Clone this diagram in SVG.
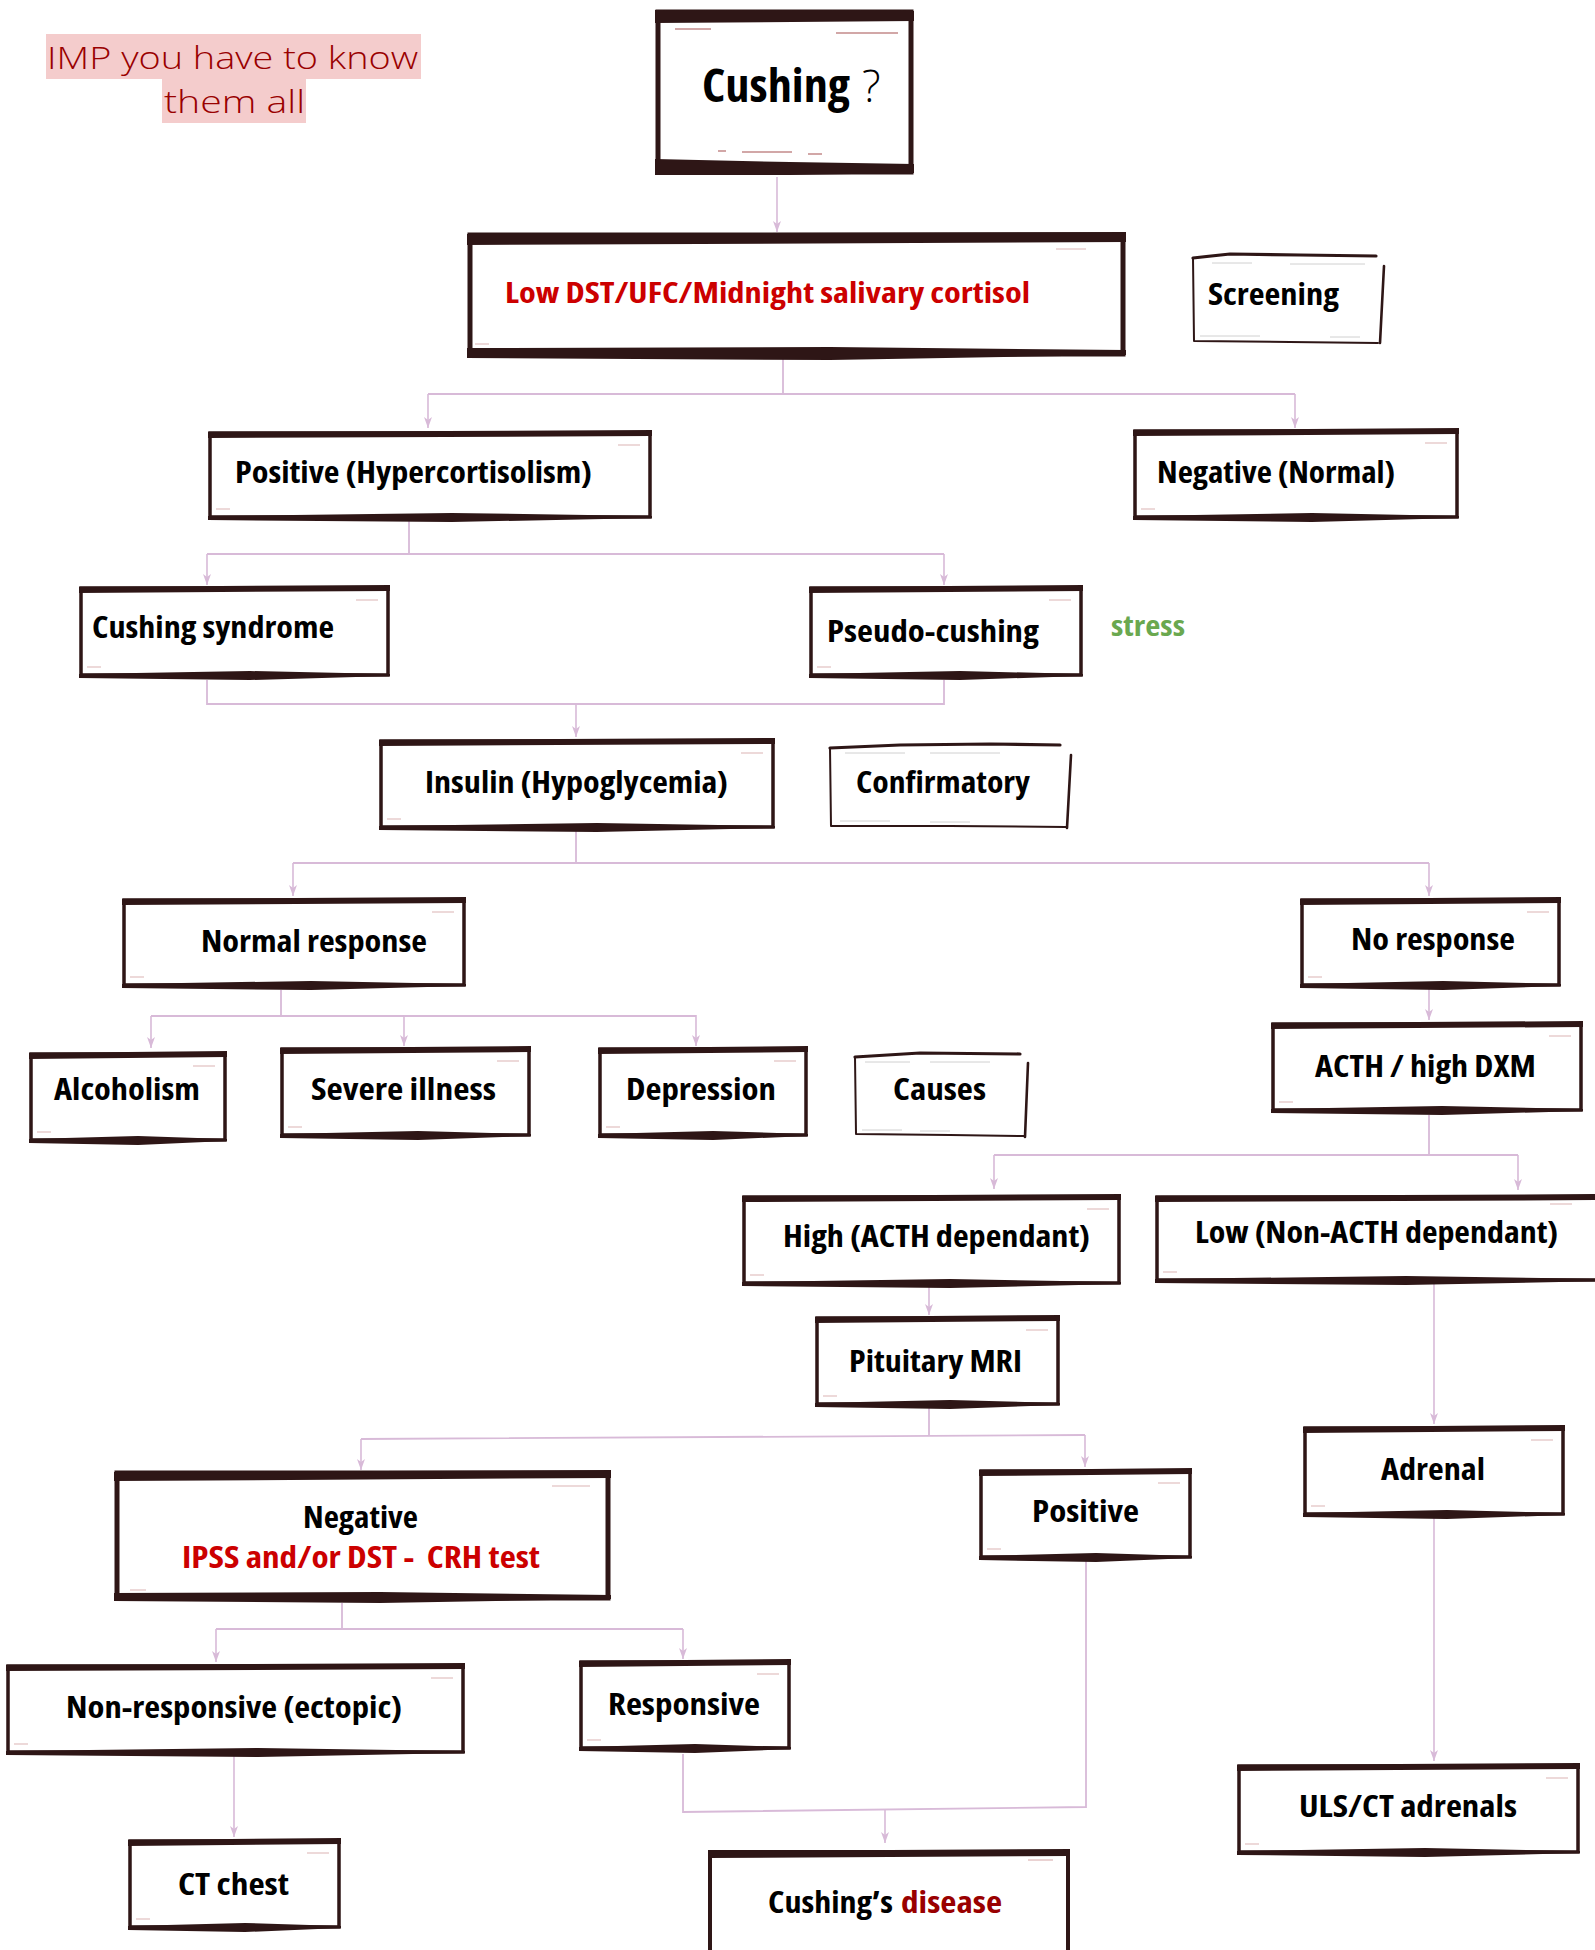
<svg xmlns="http://www.w3.org/2000/svg" width="1595" height="1950" viewBox="0 0 1595 1950">
<style>
.bx{fill:#fff;stroke:#2e1616;stroke-width:3.5}
.hv{fill:#2e1616}
.tk{fill:none;stroke:#dcb4b4;stroke-width:1.2}
.sk{fill:none;stroke:#2e1616;stroke-linecap:round;stroke-linejoin:round}
.fl{fill:none;stroke:#d0d0d0;stroke-width:1}
.t{font-family:"Open Sans","Liberation Sans",sans-serif;font-weight:700;font-stretch:condensed;font-size:30px;fill:#000}
.red{fill:#cc0000}
.cn{fill:none;stroke:#d8bad8;stroke-width:1.8}
.ar{fill:none;stroke:#d8bad8;stroke-width:1.6;marker-end:url(#ah)}
</style>
<defs>
<marker id="ah" viewBox="0 0 12 10" refX="11" refY="5" markerWidth="12" markerHeight="10" markerUnits="userSpaceOnUse" orient="auto">
<path d="M0,1 L11,5 L0,9 L3,5 Z" fill="#d8bad8"/>
</marker>
</defs>
<rect width="1595" height="1950" fill="#fff"/>

<g id="note">
<rect x="46" y="34" width="375" height="45" fill="#f4cccc"/>
<rect x="162" y="79" width="144" height="44" fill="#f4cccc"/>
<text font-family="'Open Sans',sans-serif" font-weight="300" font-size="31.5" fill="#990000"><tspan x="47" y="69" textLength="371" lengthAdjust="spacingAndGlyphs">IMP you have to know</tspan><tspan x="164" y="113" textLength="141" lengthAdjust="spacingAndGlyphs">them all</tspan></text>
</g>

<g id="connectors">
<path class="ar" d="M777,177 V232"/>
<path class="cn" d="M783,358 V394 M428,394 H1295"/>
<path class="ar" d="M428,394 V428"/>
<path class="ar" d="M1295,394 V428"/>
<path class="cn" d="M409,521 V554 M207,554 H944"/>
<path class="ar" d="M207,554 V585"/>
<path class="ar" d="M944,554 V585"/>
<path class="cn" d="M207,680 V704 H944 V680"/>
<path class="ar" d="M576,704 V737"/>
<path class="cn" d="M576,830 V863 M293,863 H1429"/>
<path class="ar" d="M293,863 V896"/>
<path class="ar" d="M1429,863 V896"/>
<path class="cn" d="M281,990 V1015 M151,1016 H696"/>
<path class="ar" d="M151,1016 V1048"/>
<path class="ar" d="M404,1015 V1046"/>
<path class="ar" d="M696,1015 V1046"/>
<path class="ar" d="M1429,988 V1020"/>
<path class="cn" d="M1429,1115 V1155 M994,1155 H1518"/>
<path class="ar" d="M994,1155 V1189"/>
<path class="ar" d="M1518,1155 V1190"/>
<path class="ar" d="M929,1287 V1315"/>
<path class="ar" d="M1434,1284 V1424"/>
<path class="cn" d="M929,1407 V1435 M361,1439 L1085,1435"/>
<path class="ar" d="M361,1439 V1470"/>
<path class="ar" d="M1085,1435 V1467"/>
<path class="cn" d="M342,1603 V1628 M216,1629 H683"/>
<path class="ar" d="M216,1629 V1662"/>
<path class="ar" d="M683,1629 V1659"/>
<path class="ar" d="M234,1756 V1837"/>
<path class="cn" d="M683,1754 V1812 L1086,1807 V1560"/>
<path class="ar" d="M885,1810 V1843"/>
<path class="ar" d="M1434,1518 V1761"/>
</g>

<g id="n-cushing">
<rect class="bx" x="658" y="12" width="253" height="160" style="stroke-width:5"/>
<path class="hv" d="M655,10 L914,11 L914,21 L655,23 Z"/>
<path class="hv" d="M655,159 L790,162 L914,164 L914,173 L790,175 L655,175 Z"/>
<path class="tk" d="M675,29 h36 M836,33 h62 M718,151 h8 M742,152 h50 M808,154 h14" style="stroke:#c48a8a;stroke-width:1.3"/>
<text class="t" x="702" y="102" style="font-size:46px" textLength="148" lengthAdjust="spacingAndGlyphs">Cushing</text>
<text x="862" y="102" font-family="'Open Sans',sans-serif" font-weight="300" font-size="44" fill="#000">?</text>
</g>

<g id="n-lowdst">
<rect class="bx" x="470" y="235" width="653" height="119" style="stroke-width:5"/>
<path class="hv" d="M467,234 L1126,232 L1126,242 L467,245 Z"/>
<path class="hv" d="M467,348 L830,347 L1126,350 L1126,355 L830,360 L467,358 Z"/>
<path class="tk" d="M1056,249 h30 M475,344 h14"/>
<text class="t red" x="505" y="303" style="font-size:29px" textLength="525" lengthAdjust="spacingAndGlyphs">Low DST/UFC/Midnight salivary cortisol</text>
</g>

<g id="n-screening">
<rect x="1193" y="256" width="188" height="86" fill="#fff"/>
<path class="fl" d="M1212,263 h40 M1290,264 h75 M1200,336 h60 M1330,337 h30"/>
<path class="sk" stroke-width="3.2" d="M1193,258 L1230,254 L1300,255 L1376,256"/>
<path class="sk" stroke-width="2" d="M1193,258 L1194,341 L1290,342 L1378,343"/>
<path class="sk" stroke-width="2.6" d="M1384,266 L1380,343"/>
<text class="t" x="1208" y="305" textLength="131" lengthAdjust="spacingAndGlyphs">Screening</text>
</g>

<g id="n-positive">
<rect class="bx" x="210" y="433" width="440" height="84"/>
<path class="hv" d="M208,432 L652,430 L652,436 L208,438 Z"/>
<path class="hv" d="M208,516 L452,513 L652,516 L652,518 L452,522 L208,520 Z"/>
<path class="tk" d="M618,445 h22 M216,509 h14"/>
<text class="t" x="235" y="483" textLength="357" lengthAdjust="spacingAndGlyphs">Positive (Hypercortisolism)</text>
</g>

<g id="n-negative">
<rect class="bx" x="1135" y="431" width="322" height="86"/>
<path class="hv" d="M1133,430 L1459,428 L1459,434 L1133,436 Z"/>
<path class="hv" d="M1133,516 L1312,513 L1459,516 L1459,518 L1312,522 L1133,520 Z"/>
<path class="tk" d="M1425,443 h22 M1141,509 h14"/>
<text class="t" x="1157" y="483" textLength="238" lengthAdjust="spacingAndGlyphs">Negative (Normal)</text>
</g>

<g id="n-cushing-syndrome">
<rect class="bx" x="81" y="588" width="307" height="87"/>
<path class="hv" d="M79,587 L390,585 L390,591 L79,593 Z"/>
<path class="hv" d="M79,674 L250,671 L390,674 L390,676 L250,680 L79,678 Z"/>
<path class="tk" d="M356,600 h22 M87,667 h14"/>
<text class="t" x="92" y="638" textLength="242" lengthAdjust="spacingAndGlyphs">Cushing syndrome</text>
</g>

<g id="n-pseudo">
<rect class="bx" x="811" y="588" width="270" height="87"/>
<path class="hv" d="M809,587 L1083,585 L1083,591 L809,593 Z"/>
<path class="hv" d="M809,674 L960,671 L1083,674 L1083,676 L960,680 L809,678 Z"/>
<path class="tk" d="M1049,600 h22 M817,667 h14"/>
<text class="t" x="827" y="642" textLength="212" lengthAdjust="spacingAndGlyphs">Pseudo-cushing</text>
</g>

<g id="n-stress">
<text class="t" x="1111" y="636" style="font-size:28px;fill:#6aa84f" textLength="74" lengthAdjust="spacingAndGlyphs">stress</text>
</g>

<g id="n-insulin">
<rect class="bx" x="381" y="741" width="392" height="86"/>
<path class="hv" d="M379,740 L775,738 L775,744 L379,746 Z"/>
<path class="hv" d="M379,826 L597,823 L775,826 L775,828 L597,832 L379,830 Z"/>
<path class="tk" d="M741,753 h22 M387,819 h14"/>
<text class="t" x="425" y="793" textLength="303" lengthAdjust="spacingAndGlyphs">Insulin (Hypoglycemia)</text>
</g>

<g id="n-confirmatory">
<rect x="830" y="746" width="238" height="81" fill="#fff"/>
<path class="fl" d="M845,753 h60 M930,753 h70 M840,821 h50 M930,822 h40"/>
<path class="sk" stroke-width="3.2" d="M830,748 L900,745 L990,744 L1060,745"/>
<path class="sk" stroke-width="2" d="M830,748 L831,826 L950,826 L1066,827"/>
<path class="sk" stroke-width="2.6" d="M1071,755 L1067,828"/>
<text class="t" x="856" y="793" textLength="174" lengthAdjust="spacingAndGlyphs">Confirmatory</text>
</g>

<g id="n-normal-response">
<rect class="bx" x="124" y="900" width="340" height="85"/>
<path class="hv" d="M122,899 L466,897 L466,903 L122,905 Z"/>
<path class="hv" d="M122,984 L311,981 L466,984 L466,986 L311,990 L122,988 Z"/>
<path class="tk" d="M432,912 h22 M130,977 h14"/>
<text class="t" x="201" y="952" textLength="226" lengthAdjust="spacingAndGlyphs">Normal response</text>
</g>

<g id="n-no-response">
<rect class="bx" x="1302" y="900" width="257" height="85"/>
<path class="hv" d="M1300,899 L1561,897 L1561,903 L1300,905 Z"/>
<path class="hv" d="M1300,984 L1443,981 L1561,984 L1561,986 L1443,990 L1300,988 Z"/>
<path class="tk" d="M1527,912 h22 M1308,977 h14"/>
<text class="t" x="1351" y="950" textLength="164" lengthAdjust="spacingAndGlyphs">No response</text>
</g>

<g id="n-alcoholism">
<rect class="bx" x="31" y="1054" width="194" height="86"/>
<path class="hv" d="M29,1053 L227,1051 L227,1057 L29,1059 Z"/>
<path class="hv" d="M29,1139 L138,1136 L227,1139 L227,1141 L138,1145 L29,1143 Z"/>
<path class="tk" d="M193,1066 h22 M37,1132 h14"/>
<text class="t" x="54" y="1100" textLength="146" lengthAdjust="spacingAndGlyphs">Alcoholism</text>
</g>

<g id="n-severe-illness">
<rect class="bx" x="282" y="1049" width="247" height="86"/>
<path class="hv" d="M280,1048 L531,1046 L531,1052 L280,1054 Z"/>
<path class="hv" d="M280,1134 L418,1131 L531,1134 L531,1136 L418,1140 L280,1138 Z"/>
<path class="tk" d="M497,1061 h22 M288,1127 h14"/>
<text class="t" x="311" y="1100" textLength="185" lengthAdjust="spacingAndGlyphs">Severe illness</text>
</g>

<g id="n-depression">
<rect class="bx" x="600" y="1049" width="206" height="86"/>
<path class="hv" d="M598,1048 L808,1046 L808,1052 L598,1054 Z"/>
<path class="hv" d="M598,1134 L713,1131 L808,1134 L808,1136 L713,1140 L598,1138 Z"/>
<path class="tk" d="M774,1061 h22 M606,1127 h14"/>
<text class="t" x="626" y="1100" textLength="150" lengthAdjust="spacingAndGlyphs">Depression</text>
</g>

<g id="n-causes">
<rect x="855" y="1055" width="171" height="80" fill="#fff"/>
<path class="fl" d="M865,1062 h45 M930,1062 h60 M862,1130 h40 M920,1131 h30"/>
<path class="sk" stroke-width="3.2" d="M855,1057 L920,1053 L1020,1054"/>
<path class="sk" stroke-width="2" d="M855,1057 L856,1134 L950,1135 L1024,1136"/>
<path class="sk" stroke-width="2.6" d="M1028,1063 L1025,1137"/>
<text class="t" x="893" y="1100" textLength="93" lengthAdjust="spacingAndGlyphs">Causes</text>
</g>

<g id="n-acth">
<rect class="bx" x="1273" y="1024" width="308" height="86"/>
<path class="hv" d="M1271,1023 L1583,1021 L1583,1027 L1271,1029 Z"/>
<path class="hv" d="M1271,1109 L1442,1106 L1583,1109 L1583,1111 L1442,1115 L1271,1113 Z"/>
<path class="tk" d="M1549,1036 h22 M1279,1102 h14"/>
<text class="t" x="1315" y="1077" textLength="221" lengthAdjust="spacingAndGlyphs">ACTH / high DXM</text>
</g>

<g id="n-high">
<rect class="bx" x="744" y="1197" width="375" height="86"/>
<path class="hv" d="M742,1196 L1121,1194 L1121,1200 L742,1202 Z"/>
<path class="hv" d="M742,1282 L950,1279 L1121,1282 L1121,1284 L950,1288 L742,1286 Z"/>
<path class="tk" d="M1087,1209 h22 M750,1275 h14"/>
<text class="t" x="783" y="1247" textLength="307" lengthAdjust="spacingAndGlyphs">High (ACTH dependant)</text>
</g>

<g id="n-low">
<rect class="bx" x="1157" y="1197" width="453" height="83"/>
<path class="hv" d="M1155,1196 L1612,1194 L1612,1200 L1155,1202 Z"/>
<path class="hv" d="M1155,1279 L1406,1276 L1612,1279 L1612,1281 L1406,1285 L1155,1283 Z"/>
<path class="tk" d="M1550,1204 h22 M1163,1272 h14"/>
<text class="t" x="1195" y="1243" textLength="363" lengthAdjust="spacingAndGlyphs">Low (Non-ACTH dependant)</text>
</g>

<g id="n-pituitary">
<rect class="bx" x="817" y="1318" width="241" height="86"/>
<path class="hv" d="M815,1317 L1060,1315 L1060,1321 L815,1323 Z"/>
<path class="hv" d="M815,1403 L950,1400 L1060,1403 L1060,1405 L950,1409 L815,1407 Z"/>
<path class="tk" d="M1026,1330 h22 M823,1396 h14"/>
<text class="t" x="849" y="1372" textLength="173" lengthAdjust="spacingAndGlyphs">Pituitary MRI</text>
</g>

<g id="n-adrenal">
<rect class="bx" x="1305" y="1428" width="258" height="86"/>
<path class="hv" d="M1303,1427 L1565,1425 L1565,1431 L1303,1433 Z"/>
<path class="hv" d="M1303,1513 L1447,1510 L1565,1513 L1565,1515 L1447,1519 L1303,1517 Z"/>
<path class="tk" d="M1531,1440 h22 M1311,1506 h14"/>
<text class="t" x="1381" y="1480" textLength="104" lengthAdjust="spacingAndGlyphs">Adrenal</text>
</g>

<g id="n-negative-ipss">
<rect class="bx" x="117" y="1473" width="491" height="125" style="stroke-width:5"/>
<path class="hv" d="M114,1472 L611,1470 L611,1478 L114,1481 Z"/>
<path class="hv" d="M114,1593 L380,1592 L611,1595 L611,1599 L380,1603 L114,1601 Z"/>
<path class="tk" d="M552,1486 h38 M130,1590 h16"/>
<text class="t" x="303" y="1528" textLength="115" lengthAdjust="spacingAndGlyphs">Negative</text>
<text class="t red" x="182" y="1568" xml:space="preserve" textLength="358" lengthAdjust="spacingAndGlyphs">IPSS and/or DST -  CRH test</text>
</g>

<g id="n-positive-mri">
<rect class="bx" x="981" y="1471" width="209" height="86"/>
<path class="hv" d="M979,1470 L1192,1468 L1192,1474 L979,1476 Z"/>
<path class="hv" d="M979,1556 L1096,1553 L1192,1556 L1192,1558 L1096,1562 L979,1560 Z"/>
<path class="tk" d="M1158,1483 h22 M987,1549 h14"/>
<text class="t" x="1032" y="1522" textLength="107" lengthAdjust="spacingAndGlyphs">Positive</text>
</g>

<g id="n-non-responsive">
<rect class="bx" x="8" y="1666" width="455" height="86"/>
<path class="hv" d="M6,1665 L465,1663 L465,1669 L6,1671 Z"/>
<path class="hv" d="M6,1751 L258,1748 L465,1751 L465,1753 L258,1757 L6,1755 Z"/>
<path class="tk" d="M431,1678 h22 M14,1744 h14"/>
<text class="t" x="66" y="1718" textLength="336" lengthAdjust="spacingAndGlyphs">Non-responsive (ectopic)</text>
</g>

<g id="n-responsive">
<rect class="bx" x="581" y="1662" width="208" height="86"/>
<path class="hv" d="M579,1661 L791,1659 L791,1665 L579,1667 Z"/>
<path class="hv" d="M579,1747 L695,1744 L791,1747 L791,1749 L695,1753 L579,1751 Z"/>
<path class="tk" d="M757,1674 h22 M587,1740 h14"/>
<text class="t" x="608" y="1715" textLength="152" lengthAdjust="spacingAndGlyphs">Responsive</text>
</g>

<g id="n-ct-chest">
<rect class="bx" x="130" y="1841" width="209" height="86"/>
<path class="hv" d="M128,1840 L341,1838 L341,1844 L128,1846 Z"/>
<path class="hv" d="M128,1926 L245,1923 L341,1926 L341,1928 L245,1932 L128,1930 Z"/>
<path class="tk" d="M307,1853 h22 M136,1919 h14"/>
<text class="t" x="178" y="1895" textLength="111" lengthAdjust="spacingAndGlyphs">CT chest</text>
</g>

<g id="n-cushings-disease">
<rect class="bx" x="710" y="1852" width="358" height="140" style="stroke-width:4"/>
<path class="hv" d="M708,1851 L1070,1849 L1070,1856 L708,1858 Z"/>
<path class="tk" d="M1028,1860 h25"/>
<text class="t" x="768" y="1913" textLength="125" lengthAdjust="spacingAndGlyphs">Cushing’s</text>
<text class="t" x="901" y="1913" style="fill:#990000" textLength="101" lengthAdjust="spacingAndGlyphs">disease</text>
</g>

<g id="n-uls">
<rect class="bx" x="1239" y="1766" width="339" height="86"/>
<path class="hv" d="M1237,1765 L1580,1763 L1580,1769 L1237,1771 Z"/>
<path class="hv" d="M1237,1851 L1425,1848 L1580,1851 L1580,1853 L1425,1857 L1237,1855 Z"/>
<path class="tk" d="M1546,1778 h22 M1245,1844 h14"/>
<text class="t" x="1299" y="1817" textLength="218" lengthAdjust="spacingAndGlyphs">ULS/CT adrenals</text>
</g>
</svg>
